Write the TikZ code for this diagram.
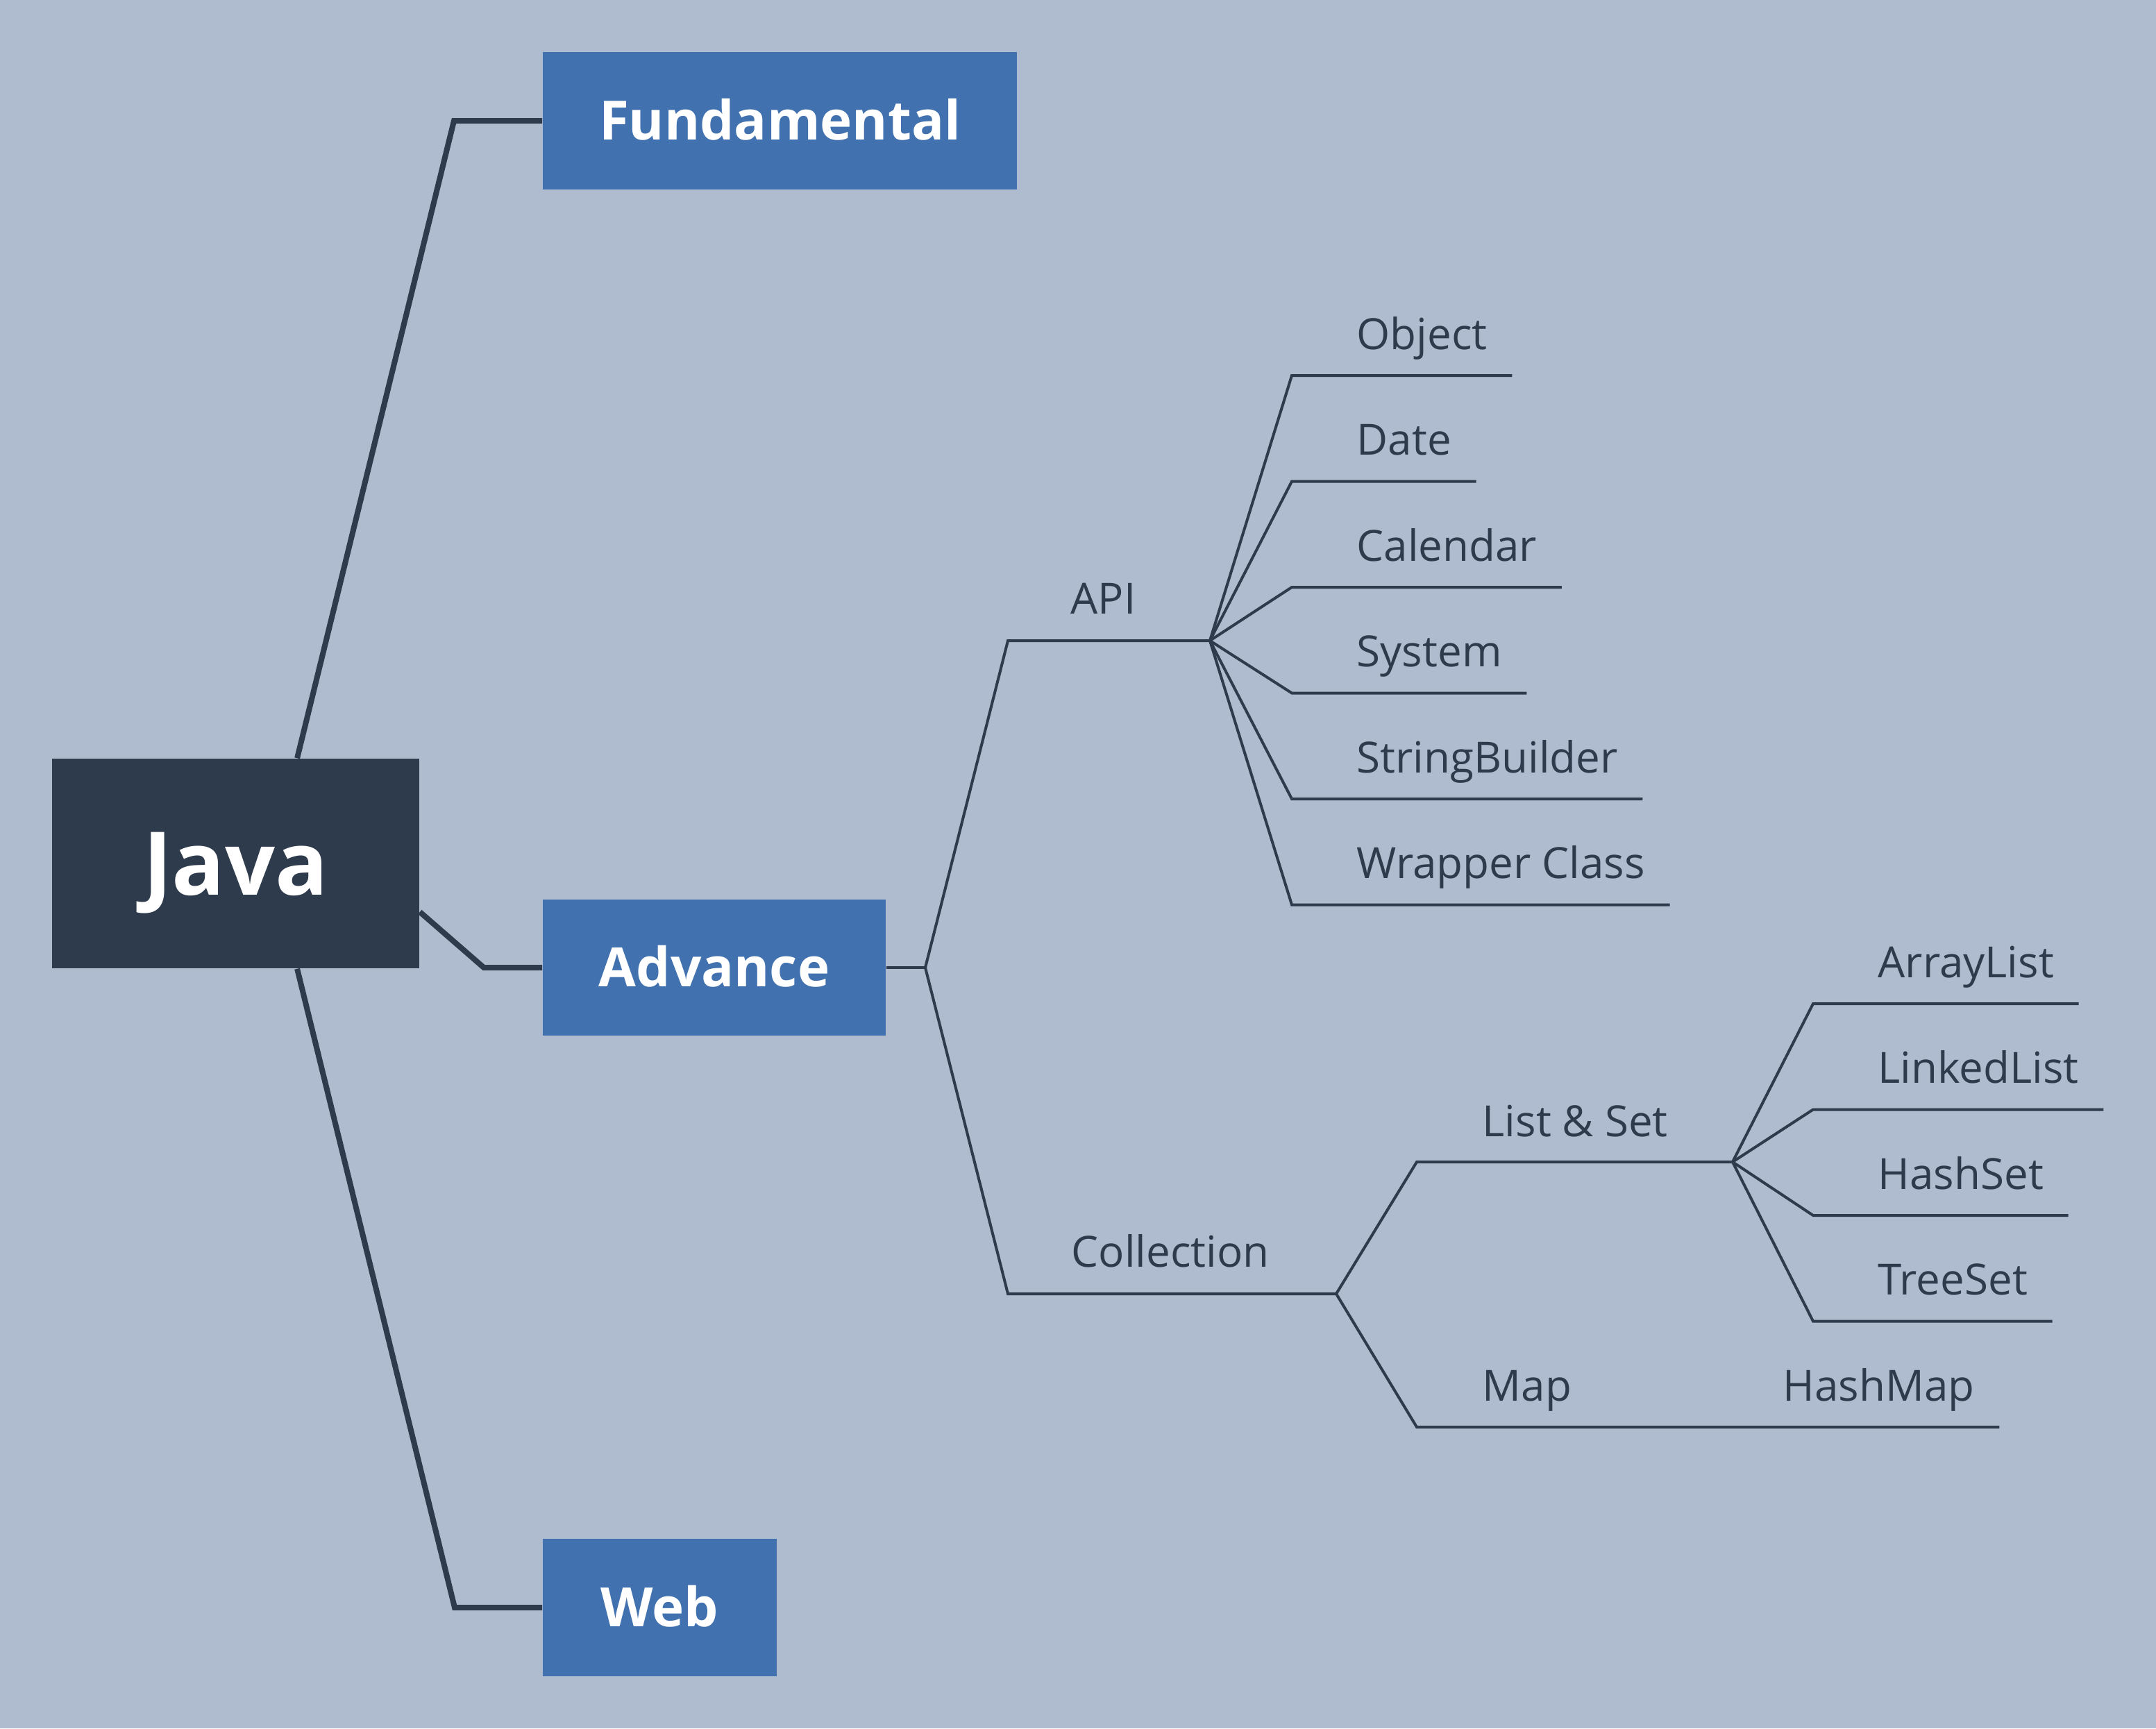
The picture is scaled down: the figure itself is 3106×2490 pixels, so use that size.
\documentclass[tikz,border=0pt]{standalone}
\usepackage{fontspec}
\setmainfont{Open Sans}
\usetikzlibrary{calc}

\definecolor{mapbg}{HTML}{AFBBCF}
\definecolor{topicblue}{HTML}{4172AF}
\definecolor{inkdark}{HTML}{2E3B4C}

\tikzset{
  topic/.style={fill=topicblue, text=white, inner sep=0pt,
    font=\fontsize{22.2}{27}\selectfont\bfseries, text height=15.9pt, text depth=0pt},
  leaf/.style={text=inkdark, inner xsep=0.35cm, inner ysep=0pt, anchor=base west,
    font=\fontsize{17.6}{21}\selectfont},
  trunk/.style={draw=inkdark, line width=0.08cm},
  twig/.style={draw=inkdark, line width=0.04cm},
}

\begin{document}
\begin{tikzpicture}[x=0.01cm,y=-0.01cm]
  % Background
  \fill[mapbg] (0,0) rectangle (3106,2490);

  % Central topic and main branches
  \node[fill=inkdark, text=white, inner sep=0pt, minimum width=5.29cm, minimum height=3.02cm,
    font=\fontsize{36}{42}\selectfont\bfseries, text height=25.7pt, text depth=0pt]
    (java) at (339.5,1244) {Java};
  \node[topic, minimum width=6.83cm, minimum height=1.98cm] (fund) at (1123.5,174) {Fundamental};
  \node[topic, minimum width=4.94cm, minimum height=1.96cm] (adv) at (1029,1394) {Advance};
  \node[topic, minimum width=3.37cm, minimum height=1.98cm] (web) at (950.5,2316) {Web};

  \coordinate (fundelbow) at (654,174);
  \coordinate (advelbow) at (697,1394);
  \coordinate (webelbow) at (655,2316);
  \draw[trunk] ($(java.north west)!0.667!(java.north east)$) -- (fundelbow) -- (fund.west);
  \draw[trunk] ($(java.south east)!0.27!(java.north east)$) -- (advelbow) -- (adv.west);
  \draw[trunk] ($(java.south west)!0.667!(java.south east)$) -- (webelbow) -- (web.west);

  % Advance subtopics
  \coordinate (advhub) at (1333,1394);
  \coordinate (apielbow) at (1452,923);
  \coordinate (apihub) at (1743,923);
  \coordinate (colelbow) at (1452,1864);
  \coordinate (colhub) at (1925,1864);
  \node[leaf] (api) at (1507,884) {API};
  \node[leaf] (col) at (1508,1825) {Collection};
  \draw[twig] (adv.east) -- (advhub);
  \draw[twig] (advhub) -- (apielbow) -- (apihub);
  \draw[twig] (advhub) -- (colelbow) -- (colhub);

  % API classes
  \foreach \name [count=\i from 0] in {Object, Date, Calendar, System, StringBuilder, Wrapper Class} {
    \pgfmathsetmacro\ly{541+152.5*\i}
    \coordinate (apie\i) at (1861,\ly);
    \node[leaf] (apin\i) at (1919,\ly-38) {\name};
    \draw[twig] (apihub) -- (apie\i) -- (apin\i.east |- apie\i);
  }

  % Collection branches
  \coordinate (lselbow) at (2041,1674);
  \coordinate (lshub) at (2496,1674);
  \coordinate (mapelbow) at (2041,2056);
  \node[leaf] (ls) at (2100,1637) {List \& Set};
  \node[leaf] (map) at (2100,2018) {Map};
  \node[leaf] (hashmap) at (2533,2018) {HashMap};
  \draw[twig] (colhub) -- (lselbow) -- (lshub);
  \draw[twig] (colhub) -- (mapelbow) -- (hashmap.east |- mapelbow);

  \foreach \name [count=\i from 0] in {ArrayList, LinkedList, HashSet, TreeSet} {
    \pgfmathsetmacro\ly{1446+152.5*\i}
    \coordinate (lse\i) at (2612,\ly);
    \node[leaf] (lsn\i) at (2670,\ly-38) {\name};
    \draw[twig] (lshub) -- (lse\i) -- (lsn\i.east |- lse\i);
  }
\end{tikzpicture}
\end{document}
